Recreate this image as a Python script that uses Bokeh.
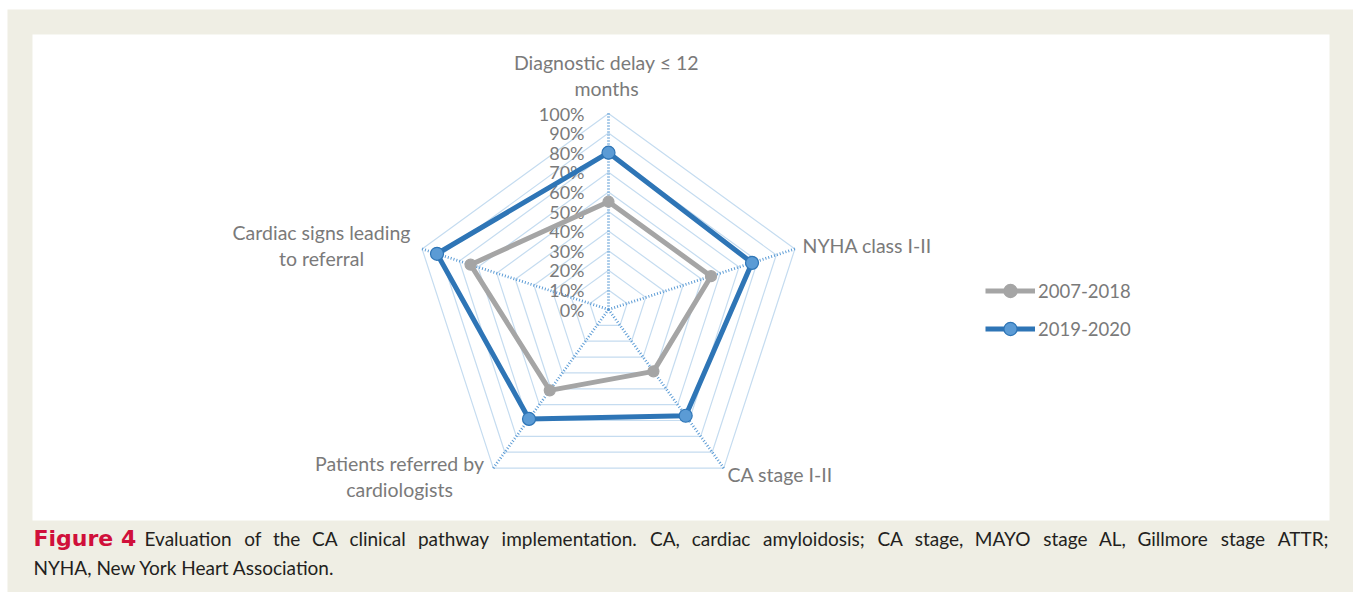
import math
from bokeh.plotting import figure
from bokeh.models import Range1d, BoxAnnotation, ColumnDataSource, Legend, LegendItem
from bokeh.core.properties import value
from bokeh.embed import file_html
from bokeh.resources import INLINE

# ---------------- data ----------------
categories = [
    "Diagnostic delay ≤ 12\nmonths",
    "NYHA class I-II",
    "CA stage I-II",
    "Patients referred by\ncardiologists",
    "Cardiac signs leading\nto referral",
]
series_names = ["2007-2018", "2019-2020"]
values_2007_2018 = [0.55, 0.55, 0.39, 0.51, 0.74]
values_2019_2020 = [0.80, 0.77, 0.67, 0.69, 0.92]
tick_values = [0.0, 0.1, 0.2, 0.3, 0.4, 0.5, 0.6, 0.7, 0.8, 0.9, 1.0]
tick_labels = ["0%", "10%", "20%", "30%", "40%", "50%", "60%", "70%", "80%", "90%", "100%"]
caption_title = "Figure 4"
caption_line1 = ("Evaluation of the CA clinical pathway implementation. CA, cardiac amyloidosis; "
                 "CA stage, MAYO stage AL, Gillmore stage ATTR;")
caption_line2 = "NYHA, New York Heart Association."

# ---------------- layout ----------------
W, H = 1353, 592
LEFT0, TOP0 = 7, 9
CX, CY, R = 608, 309, 196
FONT = "Lato"
GRAY_TXT = "#7a7a7a"
label_layout = [(606, 62, "center"), (802, 245, "left"), (727, 474, "left"),
                (399, 463, "center"), (321, 232, "center")]
LINE_GAP = 26
CAP_SIZE = 19
CAP_X0, CAP_X1 = 144, 1328

# rough advance widths (em) of Lato Regular, used only to justify the caption line
_adv = dict(a=.50, b=.56, c=.46, d=.56, e=.52, f=.32, g=.50, h=.56, i=.24, j=.24, k=.50,
            l=.24, m=.83, n=.56, o=.56, p=.56, q=.56, r=.36, s=.42, t=.34, u=.56, v=.50,
            w=.76, x=.48, y=.50, z=.44, A=.67, C=.66, E=.55, G=.71, L=.50, M=.86, O=.78,
            R=.61, T=.58, Y=.62, I=.28, N=.73, H=.74)
_adv.update({",": .22, ".": .22, ";": .24})


def text_w(s, size):
    return 1.02 * size * sum(_adv.get(ch, .55) for ch in s)


n = len(categories)


def pt(i, v):
    a = 2 * math.pi * i / n
    return CX + R * v * math.sin(a), CY - R * v * math.cos(a)


p = figure(width=W, height=H, output_backend="svg", toolbar_location=None,
           x_range=Range1d(LEFT0, W), y_range=Range1d(H, TOP0),
           min_border=0, min_border_left=LEFT0, min_border_top=TOP0,
           background_fill_color="#efeee4", border_fill_color="white")
p.axis.visible = False
p.grid.visible = False
p.outline_line_color = None

p.add_layout(BoxAnnotation(left=32, right=1329, top=34, bottom=520, fill_color="white",
                           fill_alpha=1, line_alpha=0, level="underlay"))

# grid pentagons
gx, gy = [], []
for t in tick_values[1:]:
    xs, ys = zip(*[pt(i, t) for i in list(range(n)) + [0]])
    gx.append(list(xs)); gy.append(list(ys))
p.multi_line(gx, gy, line_color="#c5dcf0", line_width=1.2)

# spokes
sx, sy = [], []
for i in range(n):
    x0, y0 = pt(i, 0)
    x1, y1 = pt(i, 1)
    sx.append([x0, x1]); sy.append([y0, y1])
p.multi_line(sx, sy, line_color="#5b9bd5", line_width=2.8, line_dash="1 2")

# radial tick labels
tsrc = ColumnDataSource(dict(x=[CX - 24] * len(tick_values),
                             y=[pt(0, t)[1] for t in tick_values], text=tick_labels))
p.text("x", "y", "text", source=tsrc, text_font=value(FONT), text_font_size="18px",
       text_color=GRAY_TXT, text_align="right", text_baseline="middle")

# category labels
for cat, (lx, ly, al) in zip(categories, label_layout):
    lines = cat.split("\n")
    src = ColumnDataSource(dict(x=[lx] * len(lines), y=[ly + k * LINE_GAP for k in range(len(lines))],
                                text=lines))
    p.text("x", "y", "text", source=src, text_font=value(FONT), text_font_size="19.5px",
           text_color=GRAY_TXT, text_align=al, text_baseline="middle")

# series
legend_items = []
styles = [
    dict(line="#a5a5a5", fill="#a5a5a5", outline="#a5a5a5", size=11),
    dict(line="#2e75b6", fill="#5b9bd5", outline="#2e75b6", size=13),
]
for name, vals, st in zip(series_names, [values_2007_2018, values_2019_2020], styles):
    xs, ys = zip(*[pt(i, v) for i, v in enumerate(vals)])
    lx = list(xs) + [xs[0]]
    ly = list(ys) + [ys[0]]
    lr = p.line(lx, ly, line_color=st["line"], line_width=5, line_join="round")
    sr = p.scatter(list(xs), list(ys), size=st["size"], fill_color=st["fill"],
                   line_color=st["outline"], line_width=1.2)
    legend_items.append(LegendItem(label=name, renderers=[lr, sr]))

legend = Legend(items=legend_items, location=(978, 247), glyph_width=50, glyph_height=33,
                label_standoff=3, spacing=5, padding=0, margin=0,
                label_text_font=FONT, label_text_font_size="18.5px", label_text_color=GRAY_TXT,
                background_fill_alpha=0, border_line_alpha=0)
p.add_layout(legend)

# caption
p.text(x=[33], y=[538], text=[caption_title], text_font=value("DejaVu Sans"), text_font_size="22px",
       text_font_style="bold", text_color="#d0103a", text_baseline="middle")
words = caption_line1.split(" ")
widths = [text_w(w_, CAP_SIZE) for w_ in words]
gap = (CAP_X1 - CAP_X0 - sum(widths)) / (len(words) - 1)
word_x, cur = [], CAP_X0
for w_ in widths:
    word_x.append(cur)
    cur += w_ + gap
p.text(x=word_x[:-1], y=[538] * (len(words) - 1), text=words[:-1], text_font=value(FONT),
       text_font_size=f"{CAP_SIZE}px", text_color="#231f20", text_baseline="middle")
p.text(x=[CAP_X1], y=[538], text=words[-1:], text_font=value(FONT), text_align="right",
       text_font_size=f"{CAP_SIZE}px", text_color="#231f20", text_baseline="middle")
p.text(x=[33], y=[567], text=[caption_line2], text_font=value(FONT), text_font_size=f"{CAP_SIZE}px",
       text_color="#231f20", text_baseline="middle")

open("out.html", "w").write(file_html(p, INLINE))
